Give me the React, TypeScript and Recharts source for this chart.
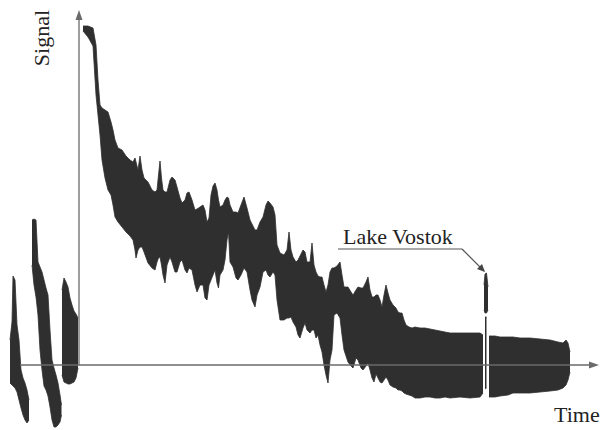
import React from 'react';
import {
  ComposedChart,
  Area,
  XAxis,
  YAxis,
  ReferenceLine,
  ReferenceDot,
} from 'recharts';

// Echo signal envelope: [time, lower, upper]; 0 is the time axis
const echo1: [number, number, number][] = [
  [10, -18, 25], [12, -20, 43], [13, -21, 89], [15, -23, 85], [17, -27, 40],
  [19, -35, 25], [21, -43, -5], [23, -50, -13], [25, -55, -18], [27, -58, -25],
  [29, -55, -35],
];

const echo2: [number, number, number][] = [
  [32, 100, 145], [34, 80, 146], [36, 68, 145], [38, 50, 103], [40, 15, 98],
  [42, -5, 93], [44, -21, 85], [46, -25, 77], [48, -31, 70], [50, -42, 35],
  [52, -55, 5], [54, -62, -3], [56, -62, -10], [58, -60, -18], [60, -57, -30],
  [61.5, -50, -40],
];

const echo3: [number, number, number][] = [
  [62, -10, 75], [64, -17, 87], [66, -18, 83], [68, -19, 78], [70, -19, 67],
  [72, -18, 60], [74, -17, 54], [76, -13, 51], [78, -3, 47],
];

const mainEcho: [number, number, number][] = [
  [83, 334, 339], [88, 328, 339], [93, 319, 337], [96, 270, 320], [98, 250, 285],
  [100, 230, 260], [102, 205, 257], [105, 187, 255], [108, 175, 253], [111, 170, 243],
  [113, 160, 235], [115, 148, 225], [118, 143, 217], [122, 138, 215], [126, 133, 209],
  [130, 129, 205], [133, 125, 203], [135, 115, 207], [136, 107, 203], [138, 115, 195],
  [140, 118, 209], [142, 118, 195], [144, 113, 187], [148, 102, 183], [152, 97, 175],
  [155, 95, 173], [157, 103, 175], [158.5, 107, 190], [160, 108, 204], [161.5, 100, 187],
  [163, 90, 175], [165, 82, 173], [167, 100, 173], [170, 108, 185], [172, 103, 188],
  [175, 93, 185], [177, 93, 178], [180, 103, 167], [182, 105, 162], [185, 95, 165],
  [187, 92, 172], [189, 97, 173], [192, 95, 165], [195, 80, 155], [197, 73, 156],
  [200, 80, 158], [203, 80, 160], [205, 67, 155], [207, 65, 143], [209, 80, 147],
  [211, 85, 170], [213, 90, 179], [215, 95, 182], [217, 82, 175], [218.5, 77, 165],
  [220, 90, 158], [223, 95, 160], [225, 105, 165], [227, 125, 168], [228.5, 133, 167],
  [230, 103, 160], [233, 98, 153], [236, 87, 153], [238, 85, 152], [241, 90, 160],
  [244, 97, 168], [247, 93, 157], [250, 75, 145], [252, 65, 141], [255, 58, 135],
  [257, 70, 135], [260, 78, 143], [263, 93, 148], [266, 95, 160], [268, 90, 164],
  [270, 88, 162], [273, 93, 158], [275, 90, 150], [277, 65, 120], [280, 45, 112],
  [284, 45, 110], [287, 47, 115], [289, 47, 133], [291, 48, 115], [293, 43, 108],
  [296, 38, 103], [298, 30, 105], [300, 27, 109], [303, 37, 115], [305, 42, 113],
  [307, 35, 103], [310, 32, 103], [312, 35, 122], [314, 35, 100], [316, 27, 93],
  [318, 30, 89], [320, 20, 88], [322, 13, 88], [324, 0, 80], [326, -10, 73],
  [328, -18, 80], [330, 5, 93], [332, 15, 97], [334, 50, 97], [337, 52, 99],
  [340, 47, 103], [342, 30, 90], [344, 15, 78], [348, 3, 78], [351, -1, 73],
  [353, -3, 70], [356, 7, 75], [358, 5, 78], [361, -3, 77], [363, -5, 77],
  [366, -1, 83], [368, 2, 88], [370, -5, 75], [372, -13, 68], [374, -17, 68],
  [376, -9, 70], [378, -13, 70], [380, -17, 65], [382, -18, 58], [384, -15, 70],
  [386, -12, 80], [388, -15, 72], [390, -20, 65], [393, -22, 60], [396, -23, 57],
  [398, -25, 53], [400, -25, 52], [402, -26, 52], [404, -28, 45], [406, -29, 40],
  [409, -30, 38], [412, -31, 37], [415, -33, 38], [420, -33, 37], [425, -32, 37],
  [430, -32, 36], [435, -33, 35], [440, -33, 34], [445, -32, 33], [450, -33, 32],
  [460, -32, 32], [470, -33, 32], [480, -32, 32], [483, -28, 30],
];

// Lake Vostok reflection: broad head on a thin stem
const lakeHead: [number, number, number][] = [
  [484, 55, 80], [485, 52, 91], [486.5, 52, 92], [488, 55, 78],
];
const lakeStem: [number, number, number][] = [
  [485, -24, 48], [486.5, -23, 48],
];

const tailEcho: [number, number, number][] = [
  [489, -32, 29], [495, -32, 29], [500, -31, 28], [508, -30, 28], [513, -28, 28],
  [520, -28, 27], [530, -28, 27], [540, -27, 26], [550, -26, 25], [558, -25, 23],
  [563, -23, 22], [566, -20, 25], [568, -15, 22], [570, -7, 13],
];

const segments: Record<string, [number, number, number][]> = {
  echo1,
  echo2,
  echo3,
  main: mainEcho,
  lakeHead,
  lakeStem,
  tail: tailEcho,
};

type Row = { t: number; [key: string]: number | [number, number] };

const chartData: Row[] = (() => {
  const rows = new Map<number, Row>();
  Object.entries(segments).forEach(([key, pts]) => {
    pts.forEach(([t, lo, hi]) => {
      if (!rows.has(t)) rows.set(t, { t });
      rows.get(t)![key] = [lo, hi];
    });
  });
  return Array.from(rows.values()).sort((a, b) => a.t - b.t);
})();

const INK = '#2f2f2f';
const AXIS = '#6a6a6a';
const FONT = 'Liberation Serif';

const arrowUp = (p: any) => (
  <path d={`M${p.cx},${p.cy} L${p.cx - 3.5},${p.cy + 10} L${p.cx + 3.5},${p.cy + 10} Z`} fill={AXIS} />
);
const arrowRight = (p: any) => (
  <path d={`M${p.cx},${p.cy} L${p.cx - 10},${p.cy - 3.5} L${p.cx - 10},${p.cy + 3.5} Z`} fill={AXIS} />
);
const arrowLeader = (p: any) => (
  <path d={`M${p.cx},${p.cy} L${p.cx - 8},${p.cy - 3} L${p.cx - 3},${p.cy - 8} Z`} fill="#444" />
);

const label = (text: string, anchor: 'start' | 'middle' | 'end', rotate = 0) => (p: any) => (
  <text
    x={p.cx}
    y={p.cy}
    textAnchor={anchor}
    fontFamily={FONT}
    fontSize={22}
    fill="#222"
    transform={rotate ? `rotate(${rotate} ${p.cx} ${p.cy})` : undefined}
  >
    {text}
  </text>
);

export default function App() {
  return (
    <div style={{ position: 'absolute', left: 0, top: 0, width: 600, height: 430, background: '#fff' }}>
      <ComposedChart width={600} height={430} data={chartData} margin={{ top: 0, right: 0, bottom: 0, left: 0 }}>
        <XAxis dataKey="t" type="number" domain={[0, 600]} hide allowDataOverflow />
        <YAxis type="number" domain={[-65, 365]} hide allowDataOverflow width={0} />

        <ReferenceLine segment={[{ x: 20, y: 0 }, { x: 596, y: 0 }]} stroke={AXIS} strokeWidth={1.3} />
        <ReferenceLine segment={[{ x: 79, y: 0 }, { x: 79, y: 350 }]} stroke={AXIS} strokeWidth={1.3} />

        {Object.keys(segments).map((key) => (
          <Area
            key={key}
            dataKey={key}
            type="linear"
            fill={INK}
            fillOpacity={1}
            stroke={INK}
            strokeWidth={0.8}
            dot={false}
            activeDot={false}
            isAnimationActive={false}
          />
        ))}

        <ReferenceDot x={79} y={355} r={0} shape={arrowUp} />
        <ReferenceDot x={599} y={0} r={0} shape={arrowRight} />

        <ReferenceLine segment={[{ x: 338, y: 116 }, { x: 462, y: 116 }]} stroke="#555" strokeWidth={1.2} />
        <ReferenceLine segment={[{ x: 462, y: 116 }, { x: 484, y: 94 }]} stroke="#555" strokeWidth={1.2} />
        <ReferenceDot x={485} y={93} r={0} shape={arrowLeader} />

        <ReferenceDot x={49} y={327} r={0} shape={label('Signal', 'middle', -90)} />
        <ReferenceDot x={343} y={121} r={0} shape={label('Lake Vostok', 'start')} />
        <ReferenceDot x={554} y={-57} r={0} shape={label('Time', 'start')} />
      </ComposedChart>
    </div>
  );
}
